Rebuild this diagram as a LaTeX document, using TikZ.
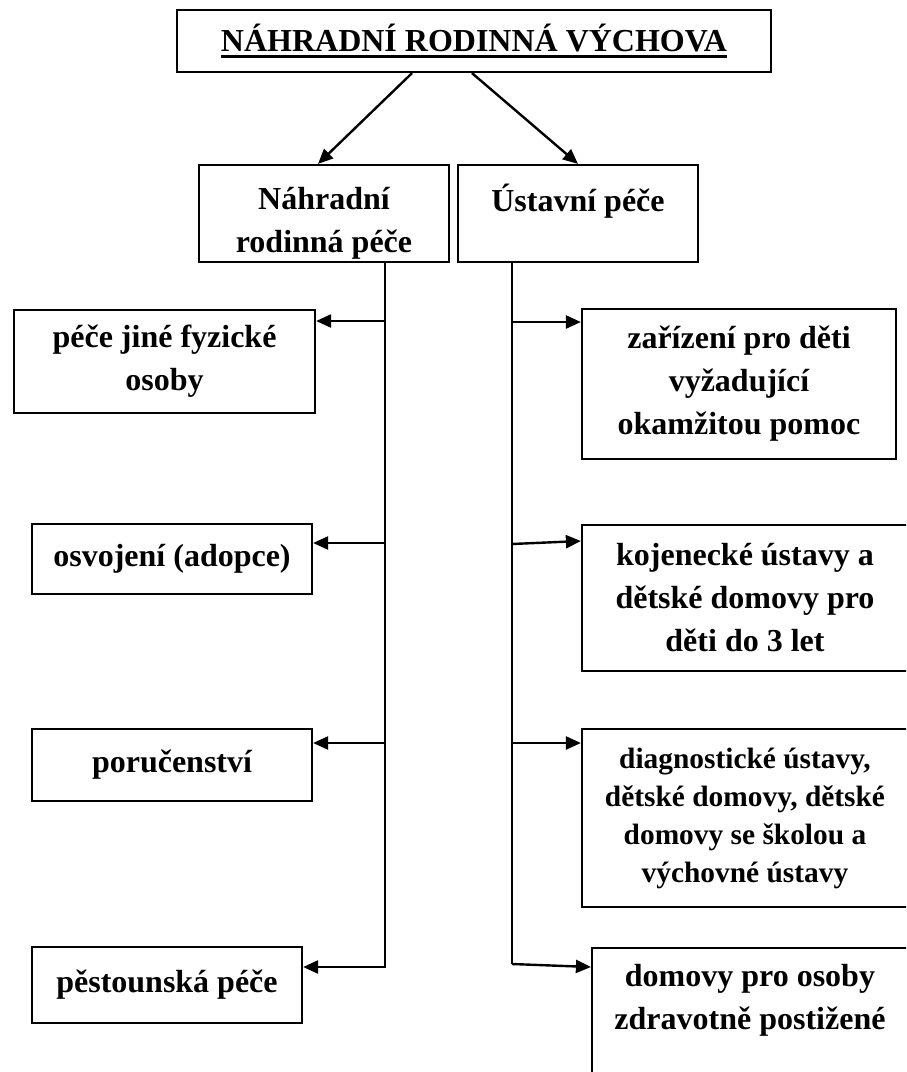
\documentclass[tikz,border=0pt]{standalone}
\usepackage{fontspec}
\setmainfont{Liberation Serif}
\usetikzlibrary{arrows.meta,calc}

% thick underline for the title
\newcommand{\titleline}[1]{\setbox0=\hbox{#1}\rlap{\rule[-3.5pt]{\wd0}{1.8pt}}\box0}

\tikzset{
	box/.style={draw, line width=1.1pt, align=center, inner sep=0pt,
		font=\fontsize{16}{21.5}\selectfont\bfseries},
	arr/.style={line width=1.2pt, -{Triangle[length=7.5pt,width=6.5pt]}}
}

\begin{document}
\begin{tikzpicture}[x=0.5pt,y=-0.5pt]
	% page frame
	\useasboundingbox (0,0) rectangle (906,1072);
	\clip (0,0) rectangle (906,1072);
	% title and the two kinds
	\node[box, minimum width=297pt, minimum height=31pt] (top) at (474,41) {\titleline{NÁHRADNÍ RODINNÁ VÝCHOVA}};
	\node[box, minimum width=125pt, minimum height=48.5pt] (nahr) at (324,213.5) {\rule{0pt}{21pt}Náhradní\\rodinná péče};
	\node[box, minimum width=120pt, minimum height=48.5pt] (ustav) at (578,213.5) {\rule{0pt}{19pt}Ústavní péče\\~};
	\draw[arr] ($(top.south)+(-62,0)$) -- ($(nahr.north)+(-6,0)$);
	\draw[arr] ($(top.south)+(-2,0)$) -- (ustav.north);
	% left column
	\node[box, minimum width=150.5pt, minimum height=51.5pt] (l1) at (164.5,361.5) {péče jiné fyzické\\osoby};
	\node[box, minimum width=140pt, minimum height=35pt] (l2) at (172,559) {osvojení (adopce)};
	\node[box, minimum width=140pt, minimum height=36pt] (l3) at (172,765) {poručenství};
	\node[box, minimum width=135pt, minimum height=38pt] (l4) at (167,985) {pěstounská péče};
	% right column
	\node[box, minimum width=157pt, minimum height=75pt] (r1) at (739,384) {zařízení pro děti\\vyžadující\\okamžitou pomoc};
	\node[box, minimum width=163pt, minimum height=73pt] (r2) at (745,598) {kojenecké ústavy a\\dětské domovy pro\\děti do 3 let};
	\node[box, minimum width=163pt, minimum height=89pt, font=\fontsize{14.7}{19}\selectfont\bfseries] (r3) at (745,818) {diagnostické ústavy,\\dětské domovy, dětské\\domovy se školou a\\výchovné ústavy};
	\node[box, minimum width=158pt, inner ysep=8pt, anchor=north] (r4) at (750,947) {domovy pro osoby\\zdravotně postižené\\~\\~};
	% trunks and branches
	\coordinate (lt) at (385,262);
	\coordinate (rt) at (512,262);
	\foreach \n/\y in {l1/321,l2/543,l3/743,l4/967}
		\coordinate (lb\n) at (385,\y);
	\foreach \n/\y in {r1/322,r2/544,r3/743,r4/964}
		\coordinate (rb\n) at (512,\y);
	\draw[arr] (lt) -- (lbl4) -- (lbl4 -| l4.east);
	\draw[line width=1.2pt] (rt) -- (rbr4);
	\foreach \n in {l1,l2,l3}
		\draw[arr] (lb\n) -- (lb\n -| \n.east);
	\foreach \n/\d in {r1/0,r2/-3,r3/0,r4/3}
		\draw[arr] (rb\n) -- ($(rb\n -| \n.west)+(0,\d)$);
\end{tikzpicture}
\end{document}
